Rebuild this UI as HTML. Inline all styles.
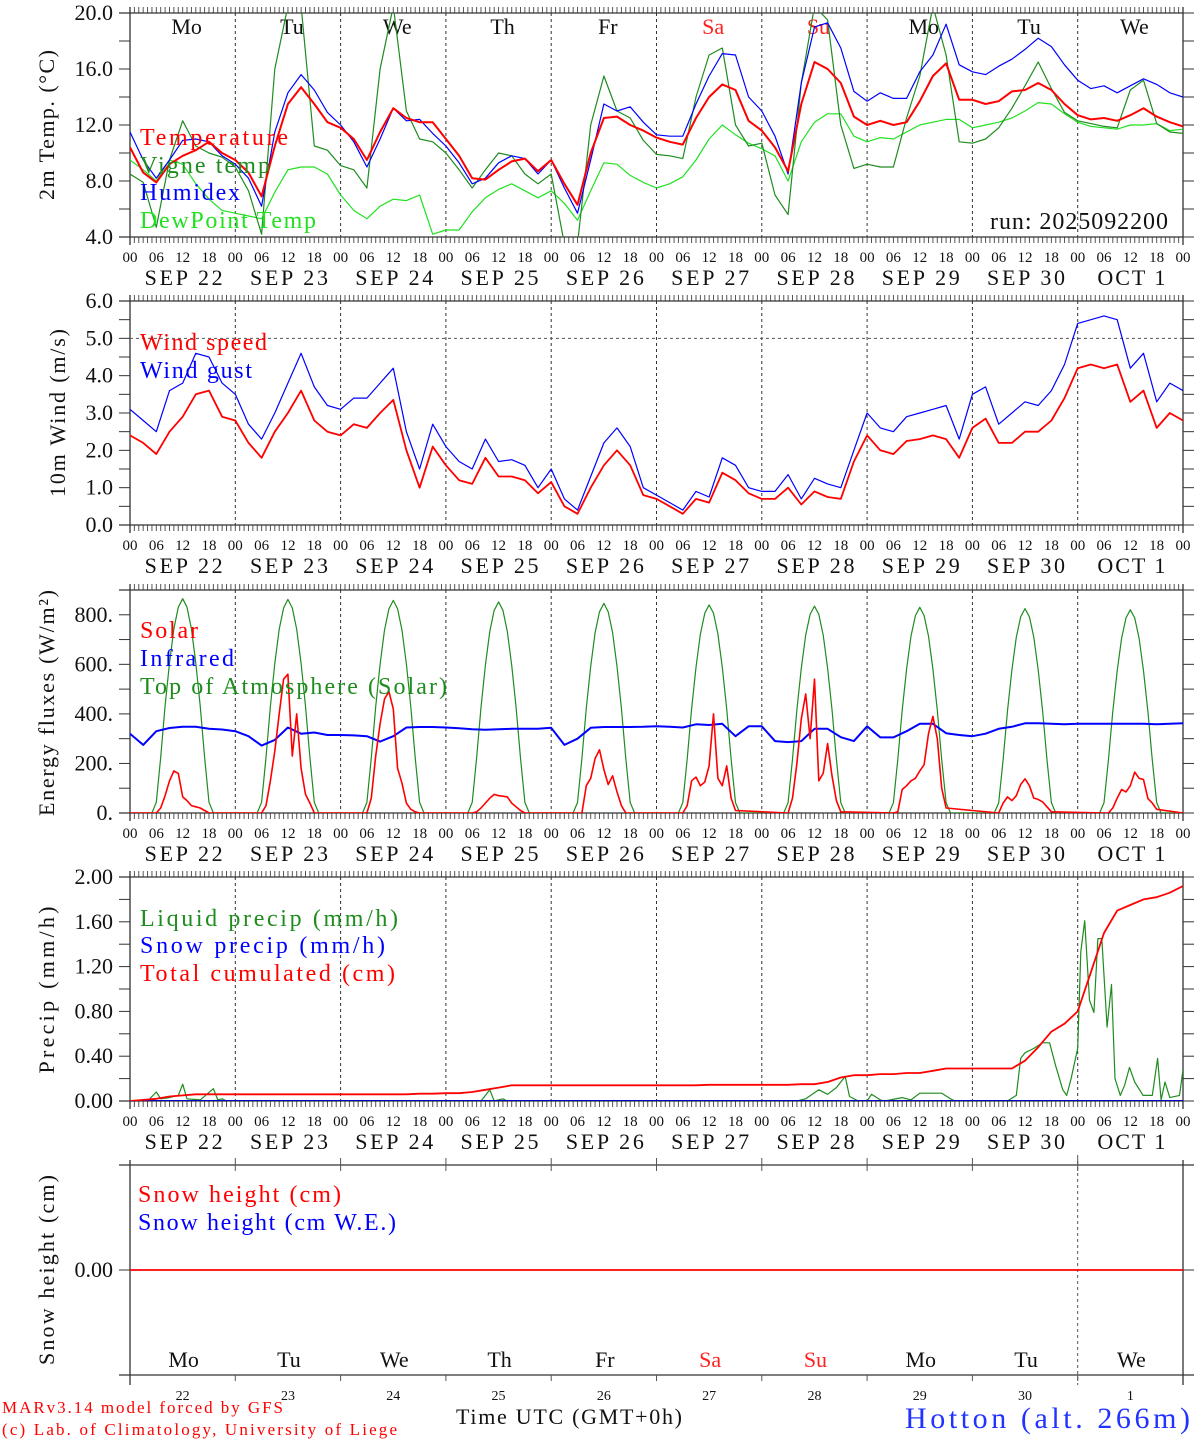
<!DOCTYPE html>
<html><head><meta charset="utf-8"><style>
html,body{margin:0;padding:0;background:#fff;}
svg{display:block;}
text{font-family:"Liberation Serif",serif;}
</style></head><body>
<svg id="chart" width="1194" height="1440" viewBox="0 0 1194 1440" xmlns="http://www.w3.org/2000/svg">
<defs>
<clipPath id="c0"><rect x="130" y="13" width="1053" height="224"/></clipPath>
<clipPath id="c1"><rect x="130" y="301" width="1053" height="224"/></clipPath>
<clipPath id="c2"><rect x="130" y="590" width="1053" height="223"/></clipPath>
<clipPath id="c3"><rect x="130" y="877" width="1053" height="224"/></clipPath>
</defs>
</svg>
<script>
// ---- data (3-hourly, hour 0..240 from SEP 22 00 UTC) ----
const dayNames = ["Mo","Tu","We","Th","Fr","Sa","Su","Mo","Tu","We"];
const dateLabels = ["SEP 22","SEP 23","SEP 24","SEP 25","SEP 26","SEP 27","SEP 28","SEP 29","SEP 30","OCT 1"];
const dayNums = ["22","23","24","25","26","27","28","29","30","1"];
const temperature = [10.4,8.6,7.9,9.2,9.8,10.2,10.8,10.0, 9.5,8.6,6.9,10.5,13.5,14.7,13.5,12.2, 11.8,11.0,9.5,11.5,13.2,12.5,12.2,12.2, 11.0,9.8,8.2,8.1,8.8,9.4,9.6,8.7, 9.5,7.8,6.3,10.0,12.5,12.6,12.0,11.6, 11.1,10.8,10.6,12.5,14.0,14.9,14.5,12.3, 11.6,10.4,8.7,13.5,16.5,16.0,15.0,12.6, 12.0,12.3,12.0,12.2,13.7,15.5,16.4,13.8, 13.8,13.5,13.7,14.4,14.5,15.0,14.5,13.5, 12.7,12.4,12.5,12.3,12.7,13.2,12.6,12.2, 11.9];
const humidex = [11.5,9.5,8.2,9.5,10.9,11.0,10.8,9.8, 9.2,8.2,6.2,11.5,14.3,15.6,14.5,12.9, 12.0,10.8,9.0,11.0,13.2,12.3,12.4,11.4, 10.5,9.3,7.8,8.2,9.3,9.8,9.6,8.5, 9.5,7.5,5.7,9.5,13.5,13.0,13.3,12.2, 11.3,11.2,11.2,13.5,15.5,17.1,17.0,14.0, 13.0,11.2,8.5,15.0,19.0,19.3,17.5,14.4, 13.7,14.3,13.9,13.9,15.8,17.0,19.2,16.3, 15.8,15.6,16.2,16.7,17.4,18.2,17.6,16.3, 15.2,14.6,14.8,14.3,14.8,15.3,14.9,14.3, 14.0];
const vigneTemp = [8.5,7.9,4.7,9.5,12.3,10.5,10.0,9.7, 9.0,7.3,4.2,16,20.5,20.5,10.5,10.2, 9.1,8.8,7.5,16,20.5,13,11.0,10.8, 10.0,8.8,7.5,8.8,10.0,9.8,8.5,7.8, 8.5,3.5,3.5,12.0,15.5,13.0,12.5,10.9, 9.9,9.8,9.6,14.0,17.0,17.5,12.0,10.5, 10.7,7.0,5.6,15,20.5,19.5,12,8.9, 9.2,9.0,9.0,12.5,15.5,20.5,17,10.8, 10.7,11.0,11.8,13.2,14.8,16.5,14.6,12.9, 12.3,12.1,11.9,11.8,14.5,15.2,12.1,11.5, 11.4];
const dewPoint = [9.5,8.8,8.0,9.5,9.2,7.8,6.7,5.9, 5.7,5.5,5.3,7.2,8.8,9.0,9.0,8.5, 7.0,5.9,5.3,6.2,6.7,6.6,7.0,4.2, 4.5,4.5,5.8,6.8,7.4,7.8,7.3,6.8, 7.3,6.4,5.2,7.3,9.3,9.2,8.4,7.9, 7.5,7.8,8.3,9.5,11.0,12.0,11.3,10.7, 10.3,9.8,8.0,10.8,12.2,12.8,12.8,11.2, 10.8,11.1,11.0,11.5,12.0,12.2,12.4,12.4, 11.8,12.0,12.2,12.5,13.0,13.6,13.5,12.8, 12.2,11.9,11.8,11.7,12.0,12.0,12.1,11.6, 11.7];
const windSpeed = [2.4,2.2,1.9,2.5,2.9,3.5,3.6,2.9, 2.8,2.2,1.8,2.5,3.0,3.6,2.8,2.5, 2.4,2.7,2.6,3.0,3.35,2.0,1.0,2.1, 1.6,1.2,1.1,1.8,1.3,1.3,1.2,0.85, 1.15,0.5,0.3,1.0,1.6,2.0,1.6,0.8, 0.7,0.5,0.3,0.7,0.6,1.4,1.2,0.85, 0.7,0.7,1.0,0.55,0.9,0.75,0.7,1.7, 2.4,2.0,1.9,2.25,2.3,2.4,2.3,1.8, 2.6,2.85,2.2,2.2,2.5,2.5,2.8,3.4, 4.2,4.3,4.2,4.3,3.3,3.6,2.6,3.0, 2.8];
const windGust = [3.1,2.8,2.5,3.6,3.8,4.6,4.5,3.8, 3.5,2.7,2.3,3.0,3.8,4.6,3.7,3.2, 3.1,3.4,3.4,3.8,4.2,2.5,1.5,2.7, 2.1,1.7,1.5,2.3,1.7,1.75,1.6,1.0, 1.5,0.7,0.4,1.3,2.2,2.6,2.1,1.0, 0.8,0.6,0.4,0.9,0.75,1.8,1.6,1.0, 0.9,0.9,1.35,0.7,1.25,1.1,1.0,2.0, 3.0,2.6,2.5,2.9,3.0,3.1,3.2,2.3, 3.5,3.7,2.7,3.0,3.3,3.2,3.6,4.3, 5.4,5.5,5.6,5.5,4.2,4.6,3.3,3.8, 3.6];
const infrared = [320,275,330,343,348,348,340,337, 330,310,272,295,345,320,325,315, 315,313,310,288,310,345,347,347, 345,342,338,336,338,340,340,340, 344,275,300,344,347,347,347,348, 350,348,345,358,355,360,310,350, 350,290,286,290,340,340,306,290, 350,305,305,330,360,360,322,315, 310,320,340,348,362,362,360,358, 360,360,360,360,360,360,358,360, 362];
// solar: hourly values 06..18 UTC for each day
const solarDays = [
 [0,20,70,130,170,160,65,50,30,25,20,10,0],
 [0,30,130,250,400,540,560,230,400,180,75,40,0],
 [0,60,230,360,460,490,420,180,120,40,15,5,0],
 [0,5,20,40,60,75,70,68,65,40,25,10,0],
 [0,0,110,140,220,255,175,115,150,85,30,0,0],
 [0,30,130,145,110,125,190,400,140,110,190,60,10],
 [0,60,200,380,480,300,540,130,160,280,150,50,5],
 [0,5,95,110,130,140,170,195,320,390,300,100,20],
 [0,40,65,50,70,115,138,110,60,55,45,25,5],
 [0,0,20,60,95,85,110,165,140,135,58,40,15]];
const toaPeak = [865,862,858,852,846,840,835,830,825,820];
const toaShape = [0,0.05,0.26,0.5,0.7,0.86,0.96,1,0.96,0.86,0.7,0.5,0.26,0.05,0]; // hours 05..19
const precipCum = [0,0.01,0.02,0.04,0.05,0.06,0.06,0.06, 0.06,0.06,0.06,0.06,0.06,0.06,0.06,0.06, 0.06,0.06,0.06,0.06,0.06,0.06,0.065,0.065, 0.07,0.07,0.08,0.10,0.12,0.14,0.14,0.14, 0.14,0.14,0.14,0.14,0.14,0.14,0.14,0.14, 0.14,0.14,0.14,0.14,0.145,0.145,0.145,0.145, 0.145,0.145,0.145,0.15,0.15,0.17,0.21,0.23, 0.23,0.24,0.24,0.25,0.25,0.27,0.29,0.29, 0.29,0.29,0.29,0.29,0.36,0.48,0.62,0.69, 0.80,1.15,1.50,1.70,1.75,1.80,1.82,1.86, 1.92];
const liquidHours = [0,4,6,7,9,11,12,13,16,19,20,21,22,80,82,83,85,86,152,154,157,159,161,163,164,166,168,169,171,172,176,178,180,183,185,187,188,200,202,203,204,206,208,209.6,211,212.6,213.5,214.5,216,216.7,217.6,218.7,219.7,220.6,221.5,222.7,223.7,224.5,225.7,226.7,227.8,229,230.9,233,234.2,235,235.9,237,239.2,240];
const liquidVals = [0,0,0.08,0.02,0.03,0.05,0.15,0.02,0.01,0.11,0.01,0.02,0,0,0.1,0,0.02,0,0,0.02,0.1,0.06,0.12,0.22,0.04,0,0,0.06,0.01,0,0.03,0.01,0.07,0.07,0.07,0.02,0,0,0.05,0.38,0.43,0.47,0.52,0.52,0.31,0.1,0.05,0.2,0.47,1.33,1.61,0.9,0.79,1.45,1.45,0.66,1.04,0.2,0.05,0.14,0.3,0.17,0.05,0.05,0.38,0.01,0.17,0.03,0.05,0.28];
const snowPrecip = [0,0];
const snowHeight = [0,0];

// ---- drawing ----
const NS="http://www.w3.org/2000/svg";
const svg=document.getElementById('chart');
const X0=130, X1=1183;
function xs(h){return X0+h*(X1-X0)/240;}
const panels=[
 {top:13,bot:237,min:4,max:20},
 {top:301,bot:525,min:0,max:6},
 {top:590,bot:813,min:0,max:900},
 {top:877,bot:1101,min:0,max:2}];
function ys(p,v){const P=panels[p];return P.bot-(v-P.min)/(P.max-P.min)*(P.bot-P.top);}
function el(tag,attrs,parent){const e=document.createElementNS(NS,tag);for(const k in attrs)e.setAttribute(k,attrs[k]);(parent||svg).appendChild(e);return e;}
function txt(s,x,y,attrs,parent){const t=el('text',Object.assign({x:x,y:y},attrs),parent);t.textContent=s;return t;}
function poly(pts,color,w,clip,name){
  const d=pts.map((p,i)=>(i?'L':'M')+p[0].toFixed(1)+' '+p[1].toFixed(1)).join(' ');
  const e=el('path',{d:d,fill:'none',stroke:color,'stroke-width':w,'stroke-linejoin':'round','clip-path':'url(#'+clip+')'});
  
  
  return e;
}
function series3h(p,arr,color,w,name){
  const pts=arr.map((v,i)=>[xs(i*3),ys(p,v)]);
  return poly(pts,color,w,'c'+p,name);
}

const yTitles=[["2m Temp. (°C)",47,125,150],["10m Wind (m/s)",58,413,168],["Energy fluxes (W/m²)",47,703,226],["Precip (mm/h)",47,990,167]];
const yLabels=[[4,8,12,16,20],[0,1,2,3,4,5,6],[0,200,400,600,800],[0,0.4,0.8,1.2,1.6,2.0]];
const yMinor=[[6,10,14,18],[0.5,1.5,2.5,3.5,4.5,5.5],[100,300,500,700,900],[0.2,0.6,1.0,1.4,1.8]];
function fmt(p,v){if(p===0||p===1)return v.toFixed(1);if(p===2)return v.toFixed(0)+'.';return v.toFixed(2);}

panels.forEach((P,p)=>{
  const g=el('g',{});
  
  
  for(let d=1;d<10;d++){el('line',{x1:xs(d*24),x2:xs(d*24),y1:P.top,y2:P.bot,stroke:'#333','stroke-width':1,'stroke-dasharray':'3,3'},g);}
  for(let h=0;h<=240;h++){
    const x=xs(h);
    el('line',{x1:x,x2:x,y1:P.top-6,y2:P.top,stroke:'#555','stroke-width':1},g);
    el('line',{x1:x,x2:x,y1:P.bot,y2:P.bot+6,stroke:'#555','stroke-width':1},g);
  }
  yLabels[p].concat(yMinor[p]).forEach(v=>{
    const y=ys(p,v);
    el('line',{x1:119,x2:130,y1:y,y2:y,stroke:'#333','stroke-width':1},g);
    el('line',{x1:1183,x2:1194,y1:y,y2:y,stroke:'#333','stroke-width':1},g);
  });
  yLabels[p].forEach(v=>{
    const t=txt(fmt(p,v),113,ys(p,v)+7,{'font-size':22,'text-anchor':'end',fill:'#111'},g);
    
    
  });
  el('line',{x1:119,x2:X1,y1:P.top,y2:P.top,stroke:'#333','stroke-width':1.3},g);
  el('line',{x1:119,x2:X1,y1:P.bot,y2:P.bot,stroke:'#333','stroke-width':1.3},g);
  el('line',{x1:X0,x2:X0,y1:P.top-6,y2:P.bot+8,stroke:'#333','stroke-width':1.3},g);
  el('line',{x1:X1,x2:X1,y1:P.top-6,y2:P.bot+8,stroke:'#333','stroke-width':1.3},g);
  for(let d=0;d<10;d++){
    ["00","06","12","18"].forEach((s,k)=>{
      const t=txt(s,xs(d*24+k*6),P.bot+25,{'font-size':15,'text-anchor':'middle',fill:'#111'},g);
      
      
    });
    const t=txt(dateLabels[d],xs(d*24+12)+1,P.bot+48,{'font-size':22,'text-anchor':'middle',fill:'#111',textLength:dateLabels[d].length===5?68:78,lengthAdjust:'spacing'},g);
    
    
  }
  const t0=txt("00",X1,P.bot+25,{'font-size':15,'text-anchor':'middle',fill:'#111'},g);
  
  
  const T=yTitles[p];
  const yt=txt(T[0],0,0,{'font-size':22,'text-anchor':'middle',fill:'#111',transform:'translate('+(T[1]+7)+','+T[2]+') rotate(-90)',textLength:T[3],lengthAdjust:'spacing'},g);
  
  
});

dayNames.forEach((s,d)=>{
  const t=txt(s,xs(d*24+12)+4,34,{'font-size':22,'text-anchor':'middle',fill:(d===5||d===6)?'#ff2020':'#111'});
  
  
});

series3h(0,dewPoint,'#22e022',1.2,'dewpoint-line');
series3h(0,vigneTemp,'#1e8c1e',1.2,'vigne-temp-line');
series3h(0,humidex,'#0000ff',1.2,'humidex-line');
series3h(0,temperature,'#ff0000',2,'temperature-line');
el('line',{x1:X0,x2:X1,y1:ys(1,5),y2:ys(1,5),stroke:'#555','stroke-width':1,'stroke-dasharray':'3,3'});
series3h(1,windGust,'#0000ff',1.2,'wind-gust-line');
series3h(1,windSpeed,'#ff0000',1.8,'wind-speed-line');
(function(){
  const toa=[[xs(0),ys(2,0)]];
  toaPeak.forEach((pk,d)=>{toaShape.forEach((f,k)=>{toa.push([xs(d*24+5+k),ys(2,pk*f)]);});});
  toa.push([xs(240),ys(2,0)]);
  poly(toa,'#1e8c1e',1.2,'c2','toa-solar-line');
  series3h(2,infrared,'#0000ff',2,'infrared-line');
  const sol=[[xs(0),ys(2,0)]];
  solarDays.forEach((arr,d)=>{arr.forEach((v,k)=>{sol.push([xs(d*24+6+k),ys(2,v)]);});});
  sol.push([xs(240),ys(2,0)]);
  poly(sol,'#ff0000',1.6,'c2','solar-line');
})();
poly(liquidHours.map((h,i)=>[xs(h),ys(3,liquidVals[i])]),'#1e8c1e',1.2,'c3','liquid-precip-line');
poly(snowPrecip.map((v,i)=>[xs(i*240),ys(3,v)]),'#0000cc',2,'c3','snow-precip-line');
series3h(3,precipCum,'#ff0000',1.8,'total-cumulated-line');

function legend(s,y,color,w,x){const t=txt(s,x||140,y,{'font-size':24,fill:color,textLength:w,lengthAdjust:'spacing'});
  
  }
legend("Temperature",145,'#ff0000',148);
legend("Vigne temp",173,'#1e8c1e',130);
legend("Humidex",200,'#0000ff',100);
legend("DewPoint Temp",228,'#22e022',176);
legend("Wind speed",350,'#ff0000',127);
legend("Wind gust",378,'#0000ff',112);
legend("Solar",638,'#ff0000',58);
legend("Infrared",666,'#0000ff',94);
legend("Top of Atmosphere (Solar)",694,'#1e8c1e',307);
legend("Liquid precip (mm/h)",926,'#1e8c1e',258);
legend("Snow precip (mm/h)",953,'#0000ff',245);
legend("Total cumulated (cm)",981,'#ff0000',255);
legend("Snow height (cm)",1202,'#ff0000',203,138);
legend("Snow height (cm W.E.)",1230,'#0000ff',258,138);
(function(){const t=txt("run: 2025092200",990,229,{'font-size':24,fill:'#111',textLength:178,lengthAdjust:'spacing'});

})();

(function(){
  const g=el('g',{});
  
  
  el('line',{x1:119,x2:1194,y1:1165,y2:1165,stroke:'#333','stroke-width':1.3},g);
  el('line',{x1:119,x2:1194,y1:1375,y2:1375,stroke:'#333','stroke-width':1.3},g);
  el('line',{x1:X0,x2:X0,y1:1160,y2:1385,stroke:'#333','stroke-width':1.3},g);
  el('line',{x1:X1,x2:X1,y1:1160,y2:1385,stroke:'#333','stroke-width':1.3},g);
  el('line',{x1:xs(216),x2:xs(216),y1:1155,y2:1385,stroke:'#555','stroke-width':1,'stroke-dasharray':'3,3'},g);
  for(let d=1;d<10;d++){const x=xs(d*24);
    el('line',{x1:x,x2:x,y1:1158,y2:1171,stroke:'#555','stroke-width':1},g);
    el('line',{x1:x,x2:x,y1:1375,y2:1381,stroke:'#555','stroke-width':1},g);}
  el('line',{x1:119,x2:130,y1:1270,y2:1270,stroke:'#333'},g);
  el('line',{x1:1183,x2:1194,y1:1270,y2:1270,stroke:'#333'},g);
  const lab=txt("0.00",113,1277,{'font-size':22,'text-anchor':'end',fill:'#111'},g);
  
  
  const sl=el('path',{d:'M'+xs(0)+' '+(1270-snowHeight[0]*50)+' L'+xs(240)+' '+(1270-snowHeight[1]*50),stroke:'#ff0000','stroke-width':1.8,fill:'none'},g);
  
  
  dayNames.forEach((s,d)=>{
    const t=txt(s,xs(d*24+12)+1,1367,{'font-size':22,'text-anchor':'middle',fill:(d===5||d===6)?'#ff2020':'#111'},g);
    
    
    const n=txt(dayNums[d],xs(d*24+12),1400,{'font-size':14,'text-anchor':'middle',fill:'#111'},g);
    
    
  });
  const yt=txt("Snow height (cm)",0,0,{'font-size':22,'text-anchor':'middle',fill:'#111',transform:'translate(54,1270) rotate(-90)',textLength:190,lengthAdjust:'spacing'},g);
  
  
})();

(function(){
  let t=txt("MARv3.14 model forced by GFS",2,1413,{'font-size':17,fill:'#ff0000',textLength:281,lengthAdjust:'spacing'});
  
  
  t=txt("(c) Lab. of Climatology, University of Liege",2,1435,{'font-size':17,fill:'#ff0000',textLength:395,lengthAdjust:'spacing'});
  
  
  t=txt("Time UTC (GMT+0h)",456,1424,{'font-size':22,fill:'#111',textLength:226,lengthAdjust:'spacing'});
  
  
  t=txt("Hotton (alt. 266m)",905,1428,{'font-size':30,fill:'#2233ff',textLength:285,lengthAdjust:'spacing'});
  
  
})();
</script>
</body></html>
